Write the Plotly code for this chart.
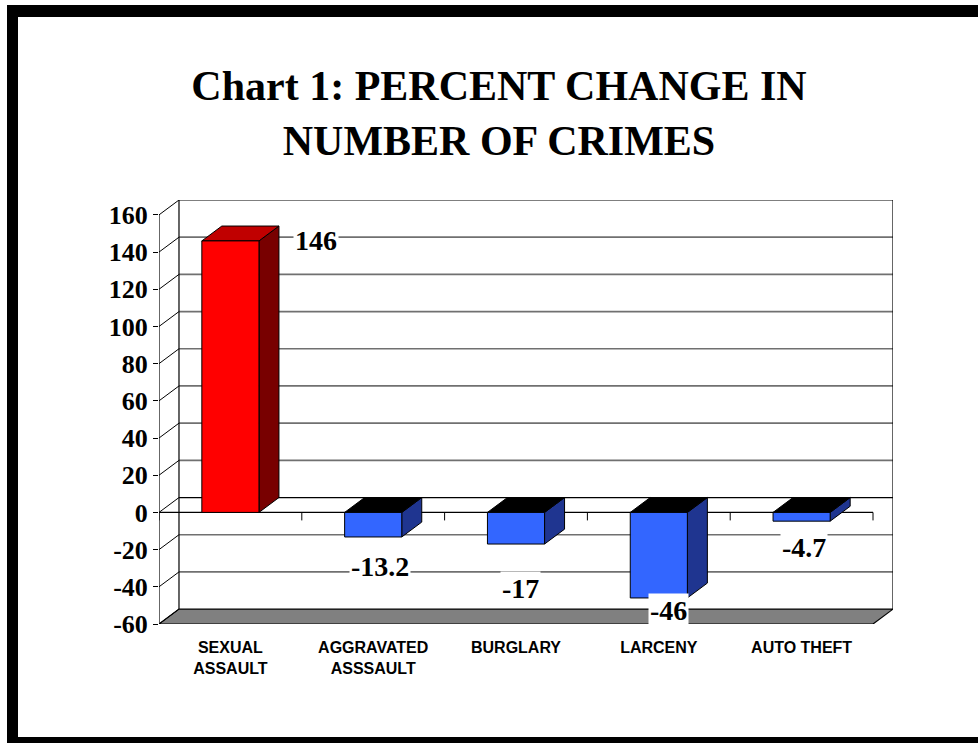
import plotly.graph_objects as go

# ---- data ----
categories = ["SEXUAL<br>ASSAULT", "AGGRAVATED<br>ASSSAULT", "BURGLARY", "LARCENY", "AUTO THEFT"]
pct_change = [146, -13.2, -17, -46, -4.7]
y_ticks = [-60, -40, -20, 0, 20, 40, 60, 80, 100, 120, 140, 160]

# ---- 3D look parameters (in data units) ----
DX, DY = 0.14, 8.0          # depth offset of the back wall
HALF_W = 0.2                # half width of a bar
Y_MIN, Y_MAX = -60, 160
X_MIN, X_MAX = -0.5, len(categories) - 0.5
TICK = 4.3                  # length of category tick marks

# label placement for each bar (x offset from bar centre, vertical pixel shift)
label_dx = [0.6, 0.05, 0.03, 0.07, 0.02]
label_yshift = [0, -30, -44, -13, -26]

# bar face colours
pos_colors = dict(front="#FF0000", top="#C00000", side="#780000")
neg_colors = dict(front="#3366FF", top="#000000", side="#1F3590")

W, H = 978, 743
L, R, T, B = 159, 85, 200, 119

fig = go.Figure()


def poly(xs, ys, fill, line="#000000", lw=1):
    fig.add_trace(go.Scatter(
        x=list(xs) + [xs[0]], y=list(ys) + [ys[0]], mode="lines",
        fill="toself", fillcolor=fill, line=dict(color=line, width=lw),
        hoverinfo="skip", showlegend=False))


def segs(pairs, color, width):
    xs, ys = [], []
    for (x0, y0), (x1, y1) in pairs:
        xs += [x0, x1, None]
        ys += [y0, y1, None]
    fig.add_trace(go.Scatter(x=xs, y=ys, mode="lines",
                             line=dict(color=color, width=width),
                             hoverinfo="skip", showlegend=False))


# back wall gridlines
grid = [v for v in y_ticks if v not in (Y_MIN, Y_MAX, 0)]
segs([((X_MIN + DX, v + DY), (X_MAX + DX, v + DY)) for v in grid], "#707070", 1.7)

# floor
poly([X_MIN, X_MAX, X_MAX + DX, X_MIN + DX],
     [Y_MIN, Y_MIN, Y_MIN + DY, Y_MIN + DY], "#808080", lw=1.2)

# back wall frame, side wall and front axis
segs([((X_MIN + DX, Y_MIN + DY), (X_MIN + DX, Y_MAX + DY)),
      ((X_MIN + DX, Y_MAX + DY), (X_MAX + DX, Y_MAX + DY)),
      ((X_MAX + DX, Y_MIN + DY), (X_MAX + DX, Y_MAX + DY)),
      ((X_MIN + DX, DY), (X_MAX + DX, DY)),
      ((X_MIN, Y_MIN), (X_MIN, Y_MAX)),
      ((X_MIN, 0), (X_MAX, 0))], "#000000", 1.2)
segs([((X_MIN, v), (X_MIN + DX, v + DY)) for v in y_ticks], "#000000", 1)

# category tick marks on the zero line and the floor edge
bounds = [X_MIN + k for k in range(len(categories) + 1)]
segs([((b, 0), (b, -TICK)) for b in bounds] +
     [((b, Y_MIN), (b, Y_MIN - TICK)) for b in bounds], "#000000", 1)

# bars
for i, v in enumerate(pct_change):
    c = pos_colors if v >= 0 else neg_colors
    x0, x1 = i - HALF_W, i + HALF_W
    top = max(v, 0)
    # side face
    poly([x1, x1, x1 + DX, x1 + DX], [0, v, v + DY, DY], c["side"])
    # top face
    poly([x0, x1, x1 + DX, x0 + DX], [top, top, top + DY, top + DY], c["top"])
    # front face
    poly([x0, x1, x1, x0], [0, 0, v, v], c["front"])

# value labels
for i, v in enumerate(pct_change):
    fig.add_annotation(
        x=i + label_dx[i], y=v, yshift=label_yshift[i], text=f"<b>{v:g}</b>",
        showarrow=False, xanchor="center", yanchor="middle",
        bgcolor="#FFFFFF", borderpad=1,
        font=dict(family="Liberation Serif", size=28, color="#000000"))


# outer black frame
def px_x(px):
    return (px - L) / (W - L - R)


def px_y(py):
    return (H - B - py) / (H - T - B)


frame = [(7, 5, 990, 17), (7, 5, 18, 750), (7, 737, 990, 750)]
for x0, y0, x1, y1 in frame:
    fig.add_shape(type="rect", xref="paper", yref="paper",
                  x0=px_x(x0), x1=px_x(x1), y0=px_y(y1), y1=px_y(y0),
                  fillcolor="#000000", line=dict(width=0), layer="above")

fig.update_layout(
    width=W, height=H,
    margin=dict(l=L, r=R, t=T, b=B),
    paper_bgcolor="#FFFFFF", plot_bgcolor="#FFFFFF",
    title=dict(text="<b>Chart 1: PERCENT CHANGE IN<br>NUMBER OF CRIMES</b>",
               x=499 / W, xref="container", xanchor="center",
               y=1 - 100 / H, yref="container", yanchor="top",
               font=dict(family="Liberation Serif", size=42, color="#000000")),
    xaxis=dict(range=[X_MIN, X_MAX + DX], tickvals=list(range(len(categories))),
               ticktext=[f"<b>{c}</b>" for c in categories],
               showgrid=False, zeroline=False, showline=False, ticks="",
               ticklabelstandoff=12,
               tickfont=dict(family="Liberation Sans", size=16, color="#000000")),
    yaxis=dict(range=[Y_MIN, Y_MAX + DY], tickvals=y_ticks,
               ticktext=[f"<b>{v}</b>" for v in y_ticks],
               showgrid=False, zeroline=False, showline=False,
               ticks="outside", ticklen=5, tickcolor="#000000",
               tickfont=dict(family="Liberation Serif", size=26, color="#000000")),
)

fig.write_html("out.html")
